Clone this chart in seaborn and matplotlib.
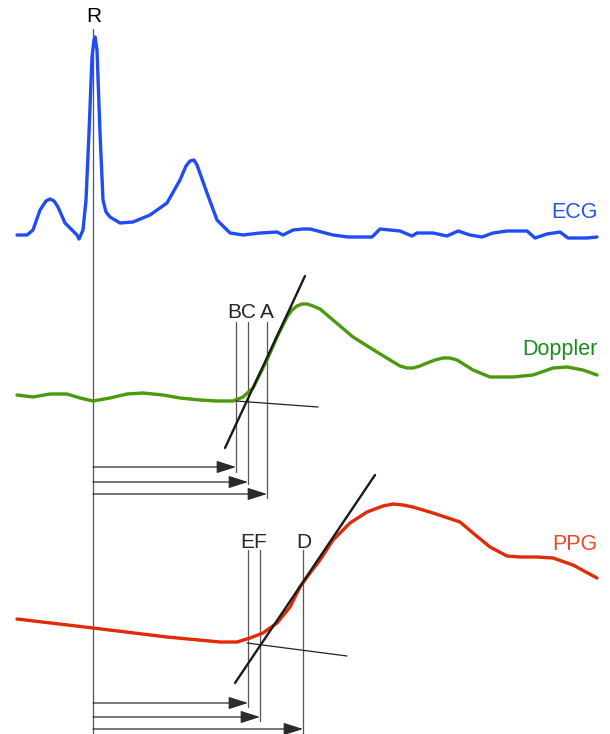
import matplotlib
matplotlib.use("Agg")
import matplotlib.pyplot as plt
import seaborn as sns
import pandas as pd

# -------------------------------------------------
# traces (x = time, y = screen units, down is positive)
ecg_t = [17, 27, 33, 40, 46, 50, 54, 58, 65, 72, 77, 79, 83, 86, 89, 92, 94, 95, 97, 100, 103,
         106, 110, 120, 133, 150, 167, 180, 186, 190, 194, 197, 207, 217, 230, 243, 260, 277, 283,
         293, 303, 310, 333, 348, 372, 380, 400, 412, 417, 433, 447, 458, 470, 482,
         493, 507, 527, 535, 547, 560, 568, 587, 597]
ecg_v = [235, 235, 230, 210, 201, 199, 201, 207, 223, 230, 235, 239, 230, 200, 133, 57, 40, 37, 50,
         133, 200, 212, 217, 223, 222, 215, 203, 180, 166, 161, 160, 165, 193, 220, 233, 235, 233,
         232, 235, 230, 229, 229, 235, 237, 237, 229, 231, 236, 233, 233, 236, 231,
         235, 237, 233, 231, 231, 238, 234, 232, 238, 238, 237]

dop_t = [17, 33, 50, 67, 80, 93, 110, 127, 143, 163, 180, 200, 217, 233, 243, 253,
         260, 267, 277, 287, 292, 297, 302, 307, 313, 320, 333, 353, 377, 400, 407, 413,
         420, 427, 435, 443, 450, 457, 473, 490, 513, 533, 553, 567, 583, 597]
dop_v = [395, 397, 394, 394, 398, 401, 398, 394, 393, 395, 398, 400, 401, 401, 397,
         388, 374, 360, 337, 317, 310, 306, 304, 304, 306, 309, 320, 337, 352, 366, 368, 368,
         366, 363, 360, 358, 358, 360, 370, 377, 377, 375, 368, 367, 370, 375]

ppg_t = [17, 93, 167, 220, 237, 250, 263, 277, 290, 300, 310, 320, 333, 350, 367,
         383, 393, 403, 413, 433, 460, 473, 490, 507, 520, 537, 553, 573, 597]
ppg_v = [619, 628, 637, 642, 642, 638, 633, 623, 607, 587, 573, 560, 540, 523, 512,
         506, 504, 505, 507, 513, 522, 533, 547, 556, 557, 557, 558, 565, 578]

# fiducial points
r_time = 93
dop_mark_t = [236, 248, 267]
ppg_mark_t = [248, 260, 303]
# point labels and where they sit
dop_labels = ["BC", "A"]
dop_label_t = [242, 267]
ppg_labels = ["EF", "D"]
ppg_label_t = [254, 304]

# tangent / baseline construction lines (start, end)
dop_tangent = [(225, 448), (305, 276)]
dop_base = [(236, 401), (318, 407)]
ppg_tangent = [(235, 683), (375, 475)]
ppg_base = [(247, 643), (347, 656)]

blue, blue_txt = "#1f4cf5", "#2457f0"
green, green_txt = "#4b9a0e", "#1c8c1c"
red, red_txt = "#e12a06", "#ea4a2a"
grey = "#555555"

sns.set_theme(style="white")
plt.rcParams["font.family"] = ["Liberation Sans", "DejaVu Sans"]

fig = plt.figure(figsize=(6.1, 7.34), dpi=100)
ax = fig.add_axes([0, 0, 1, 1])

df = pd.concat([
    pd.DataFrame({"t": ecg_t, "v": ecg_v, "sig": "ECG"}),
    pd.DataFrame({"t": dop_t, "v": dop_v, "sig": "Doppler"}),
    pd.DataFrame({"t": ppg_t, "v": ppg_v, "sig": "PPG"}),
])
sns.lineplot(data=df, x="t", y="v", hue="sig", sort=False, estimator=None,
             palette={"ECG": blue, "Doppler": green, "PPG": red},
             linewidth=2.4, legend=False, ax=ax, zorder=3,
             solid_joinstyle="round", solid_capstyle="round")

# R line
ax.plot([r_time, r_time], [29, 734], color=grey, lw=0.9, zorder=2)
ax.text(r_time + 1, 16, "R", ha="center", va="center", fontsize=15, color="black")

# construction lines
for seg in (dop_tangent, ppg_tangent):
    ax.plot([seg[0][0], seg[1][0]], [seg[0][1], seg[1][1]], color="#1a1a1a", lw=1.7, zorder=4)
for seg in (dop_base, ppg_base):
    ax.plot([seg[0][0], seg[1][0]], [seg[0][1], seg[1][1]], color="#222222", lw=0.9, zorder=4)


def marks(times, top, arrow_y, ends):
    for t, ay, end in zip(times, arrow_y, ends):
        ax.plot([t, t], [top, end], color=grey, lw=0.9, zorder=2)
        ax.annotate("", xy=(t, ay), xytext=(r_time, ay),
                    arrowprops=dict(arrowstyle="-|>,head_length=1.0,head_width=0.32",
                                    color="#2a2a2a", lw=0.9, shrinkA=0, shrinkB=0),
                    zorder=2)


marks(dop_mark_t, 322, [467, 482, 494], [472, 484, 498])
for lab, t in zip(dop_labels, dop_label_t):
    ax.text(t, 312, lab, ha="center", va="center", fontsize=15)

marks(ppg_mark_t, 550, [703, 717, 729], [707, 721, 734])
for lab, t in zip(ppg_labels, ppg_label_t):
    ax.text(t, 542, lab, ha="center", va="center", fontsize=15)

ax.text(598, 213, "ECG", ha="right", va="center", fontsize=15.5, color=blue_txt)
ax.text(598, 350, "Doppler", ha="right", va="center", fontsize=15.5, color=green_txt)
ax.text(598, 544, "PPG", ha="right", va="center", fontsize=15.5, color=red_txt)

ax.set_xlim(0, 610)
ax.set_ylim(734, 0)
ax.axis("off")

fig.savefig("out.png", dpi=100)
